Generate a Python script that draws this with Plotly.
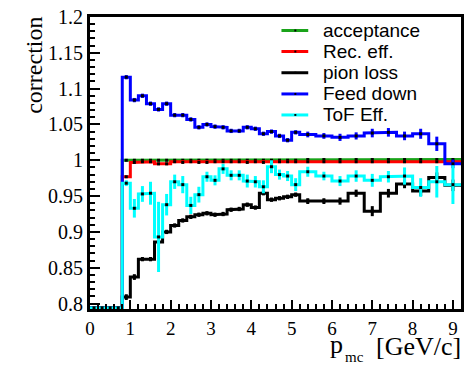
import numpy as np
import plotly.graph_objects as go

# ---------------- data ----------------
bin_edges = [0.0, 0.2, 0.4, 0.6, 0.8, 1.0, 1.2, 1.4, 1.6, 1.8, 2.0, 2.2, 2.4, 2.6, 2.8,
             3.0, 3.2, 3.4, 3.6, 3.8, 4.0, 4.2, 4.4, 4.6, 4.8, 5.0, 5.2,
             5.6, 6.0, 6.4, 6.8, 7.2, 7.6, 8.0, 8.4, 8.8, 9.2]

acceptance = [0, 0, 0, 0,
              1.000, 1.000, 1.000, 1.000, 1.000, 1.000, 1.000, 1.000, 1.000, 1.000, 1.000,
              1.000, 1.000, 1.000, 1.000, 1.000, 1.000, 1.000, 1.000, 1.000, 1.000, 1.000,
              1.001, 1.001, 1.001, 1.001, 1.001, 1.001, 1.001, 1.001, 1.001, 1.001]
acceptance_err = [0] * 4 + [0.001] * 32

rec_eff = [0, 0, 0, 0,
           0.977, 0.997, 0.998, 0.998, 0.995, 0.995, 0.998, 0.997, 0.998, 0.997, 0.997,
           0.998, 0.998, 0.998, 0.998, 0.997, 0.998, 0.997, 0.998, 0.998, 0.998, 0.998,
           0.998, 0.998, 0.998, 0.998, 0.998, 0.998, 0.998, 0.998, 0.998, 0.998]
rec_eff_err = [0] * 4 + [0.001] * 32

pion_loss = [0, 0, 0, 0,
             0.809, 0.837, 0.862, 0.862, 0.886, 0.900, 0.909, 0.916, 0.921, 0.924, 0.926,
             0.924, 0.925, 0.931, 0.932, 0.938, 0.934, 0.954, 0.945, 0.947, 0.949, 0.952,
             0.943, 0.943, 0.943, 0.954, 0.929, 0.954, 0.967, 0.957, 0.976, 0.965]
pion_loss_err = [0, 0, 0, 0,
                 0.004, 0.004, 0.003, 0.003, 0.003, 0.003, 0.003, 0.003, 0.003, 0.003, 0.003,
                 0.003, 0.003, 0.003, 0.003, 0.003, 0.003, 0.003, 0.003, 0.003, 0.003, 0.003,
                 0.004, 0.004, 0.005, 0.005, 0.007, 0.006, 0.006, 0.007, 0.007, 0.008]

feed_down = [0, 0, 0, 0,
             1.116, 1.084, 1.090, 1.079, 1.071, 1.079, 1.063, 1.063, 1.057, 1.046, 1.050,
             1.047, 1.046, 1.041, 1.041, 1.046, 1.044, 1.037, 1.040, 1.034, 1.028, 1.039,
             1.036, 1.034, 1.032, 1.034, 1.038, 1.039, 1.034, 1.037, 1.023, 0.995]
feed_down_err = [0, 0, 0, 0,
                 0.003, 0.003, 0.003, 0.003, 0.003, 0.003, 0.003, 0.003, 0.003, 0.003, 0.003,
                 0.003, 0.003, 0.003, 0.003, 0.003, 0.003, 0.003, 0.003, 0.003, 0.003, 0.003,
                 0.004, 0.004, 0.005, 0.005, 0.006, 0.006, 0.006, 0.007, 0.010, 0.006]

tof_eff = [0, 0, 0, 0,
           0.968, 0.933, 0.953, 0.954, 0.893, 0.938, 0.970, 0.966, 0.937, 0.952, 0.977,
           0.972, 0.988, 0.979, 0.979, 0.971, 0.970, 0.963, 0.991, 0.980, 0.978, 0.966,
           0.984, 0.978, 0.971, 0.978, 0.972, 0.977, 0.978, 0.962, 0.970, 0.966]
tof_eff_err = [0, 0, 0, 0,
               0.004, 0.013, 0.011, 0.016, 0.049, 0.015, 0.010, 0.012, 0.012, 0.011, 0.007,
               0.007, 0.007, 0.007, 0.007, 0.009, 0.008, 0.009, 0.009, 0.007, 0.007, 0.009,
               0.007, 0.006, 0.007, 0.008, 0.009, 0.008, 0.012, 0.013, 0.022, 0.027]

series_names = ["acceptance", "Rec. eff.", "pion loss", "Feed down", "ToF Eff."]
series_colors = ["#1aa31a", "#ff0000", "#000000", "#0000ff", "#00ffff"]

x_tick_vals = [0, 1, 2, 3, 4, 5, 6, 7, 8, 9]
x_tick_text = ["0", "1", "2", "3", "4", "5", "6", "7", "8", "9"]
y_tick_vals = [0.8, 0.85, 0.9, 0.95, 1.0, 1.05, 1.1, 1.15, 1.2]
y_tick_text = ["0.8", "0.85", "0.9", "0.95", "1", "1.05", "1.1", "1.15", "1.2"]

# ---------------- layout constants ----------------
W, H = 470, 365
ML, MR, MT, MB = 90, 6, 13, 56
XMIN, XMAX = 0.0, 9.2
YMIN, YMAX = 0.7924, 1.2
SERIF = "Liberation Serif, Times New Roman, serif"
SANS = "Liberation Sans, Arial, sans-serif"

values = [acceptance, rec_eff, pion_loss, feed_down, tof_eff]
errors = [acceptance_err, rec_eff_err, pion_loss_err, feed_down_err, tof_eff_err]

edges = np.array(bin_edges)
centers = 0.5 * (edges[:-1] + edges[1:])
floor = YMIN + 0.0015

fig = go.Figure()
for name, col, v, e in zip(series_names, series_colors, values, errors):
    v = np.array(v, dtype=float)
    vd = np.maximum(v, floor)
    xs, ys = [], []
    for i in range(len(vd)):
        xs += [edges[i], edges[i + 1]]
        ys += [vd[i], vd[i]]
    fig.add_trace(go.Scatter(x=xs, y=ys, mode="lines", line=dict(color=col, width=3),
                             showlegend=False, hoverinfo="skip", cliponaxis=True))
    fig.add_trace(go.Scatter(x=centers, y=vd, mode="markers",
                             marker=dict(color="black", size=3, symbol="square"),
                             error_y=dict(type="data", array=e, color=col, thickness=3, width=0),
                             showlegend=False, name=name))

# manual legend (ROOT style)
def px2x(px):
    return (px - ML) / (W - ML - MR)

def py2y(py):
    return (H - MB - py) / (H - MT - MB)

leg_y = [26.7, 48.0, 69.5, 91.0, 112.3]
shapes = []
annotations = []
for name, col, yy in zip(series_names, series_colors, leg_y):
    shapes.append(dict(type="line", xref="paper", yref="paper", x0=px2x(283), x1=px2x(310),
                       y0=py2y(yy), y1=py2y(yy), line=dict(color=col, width=3)))
    shapes.append(dict(type="rect", xref="paper", yref="paper", x0=px2x(296), x1=px2x(298),
                       y0=py2y(yy + 1), y1=py2y(yy - 1), line=dict(width=0), fillcolor="black"))
    annotations.append(dict(text=name, xref="paper", yref="paper", x=px2x(323), y=py2y(yy),
                            xanchor="left", yanchor="middle", showarrow=False,
                            font=dict(family=SANS, size=19, color="black")))

annotations.append(dict(text="correction", xref="paper", yref="paper",
                        x=px2x(34), y=py2y(62), textangle=-90, showarrow=False,
                        xanchor="center", yanchor="middle",
                        font=dict(family=SERIF, size=24, color="black")))
# x-axis title, ROOT style: p with subscript mc, then [GeV/c]
annotations.append(dict(text="p", xref="paper", yref="paper",
                        x=px2x(338), y=py2y(345), showarrow=False,
                        xanchor="center", yanchor="middle",
                        font=dict(family=SERIF, size=26, color="black")))
annotations.append(dict(text="mc", xref="paper", yref="paper",
                        x=px2x(357), y=py2y(358), showarrow=False,
                        xanchor="center", yanchor="middle",
                        font=dict(family=SERIF, size=15, color="black")))
annotations.append(dict(text="[GeV/c]", xref="paper", yref="paper",
                        x=px2x(466), y=py2y(347), showarrow=False,
                        xanchor="right", yanchor="middle",
                        font=dict(family=SERIF, size=26, color="black")))

fig.update_layout(
    width=W, height=H, margin=dict(l=ML, r=MR, t=MT, b=MB),
    paper_bgcolor="white", plot_bgcolor="white",
    showlegend=False, shapes=shapes, annotations=annotations,
    font=dict(family=SERIF, size=20, color="black"),
)
fig.update_xaxes(range=[XMIN, XMAX], showgrid=False, zeroline=False,
                 showline=True, linecolor="black", linewidth=3, mirror=True,
                 ticks="inside", ticklen=9, tickwidth=2, tickcolor="black",
                 tickvals=x_tick_vals, ticktext=x_tick_text,
                 tickfont=dict(family=SERIF, size=19),
                 minor=dict(ticks="inside", dtick=0.2, ticklen=5, tickwidth=2, tickcolor="black"))
fig.update_yaxes(range=[YMIN, YMAX], showgrid=False, zeroline=False,
                 showline=True, linecolor="black", linewidth=3, mirror=True,
                 ticks="inside", ticklen=10, tickwidth=2, tickcolor="black",
                 tickvals=y_tick_vals, ticktext=y_tick_text,
                 tickfont=dict(family=SERIF, size=20),
                 minor=dict(ticks="inside", dtick=0.01, tick0=0.8, ticklen=5, tickwidth=2, tickcolor="black"))

fig.write_html("out.html")
